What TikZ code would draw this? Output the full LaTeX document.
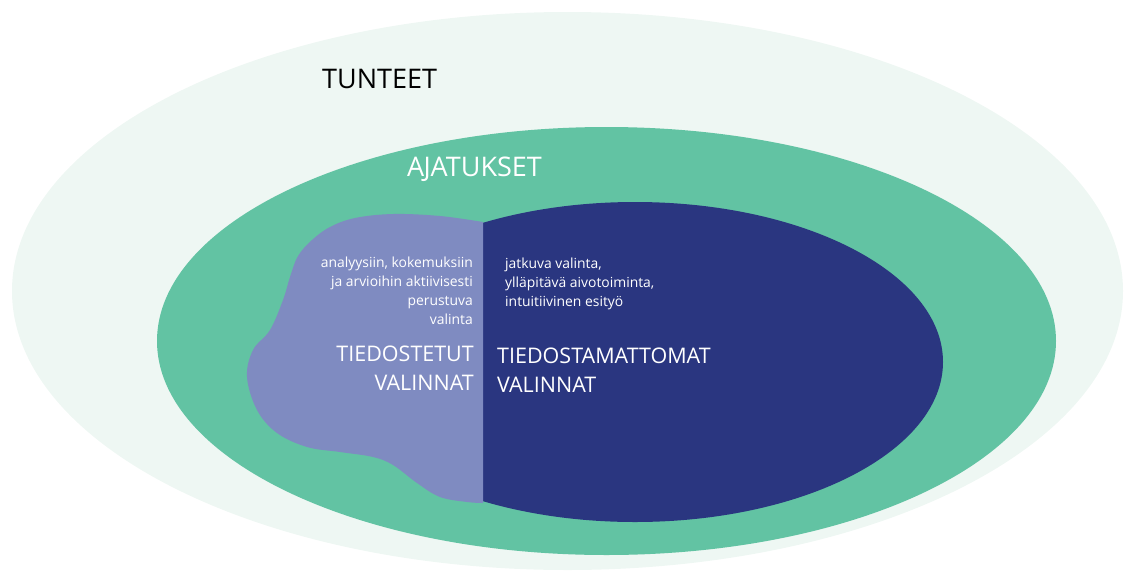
\documentclass[tikz,border=0pt]{standalone}
\usepackage{fontspec}
\setmainfont{Open Sans}
\definecolor{mintpale}{HTML}{EEF7F3}
\definecolor{mintgreen}{HTML}{62C3A3}
\definecolor{navyblue}{HTML}{2A3680}
\definecolor{lavender}{HTML}{7F8BC1}
\begin{document}
\begin{tikzpicture}[x=1pt,y=-1pt,
  bigtitle/.style={font=\fontsize{27}{32}\selectfont, inner sep=0pt, anchor=base west},
  choicetitle/.style={font=\fontsize{21.5}{28.5}\selectfont, inner sep=0pt, text=white},
  note/.style={font=\fontsize{13.9}{19}\selectfont, inner sep=0pt, text=white}]
\useasboundingbox (0,0) rectangle (1125,571);

% layers: feelings, thoughts, choices
\fill[mintpale] (567.5,291) ellipse [x radius=555.5, y radius=279];
\fill[mintgreen] (606.5,341) ellipse [x radius=449.5, y radius=214];
\begin{scope}
  \clip (483,150) rectangle (1000,560);
  \fill[navyblue] (635,362) ellipse [x radius=308, y radius=160];
\end{scope}
\fill[lavender] (483,503) -- plot[smooth, tension=0.6] coordinates {
  (483,503) (467,502) (440,497) (417,483) (393,465) (373,457) (340,452)
  (307,447) (277,433) (257,410) (247,377) (253,350) (270,330) (283,300)
  (290,277) (298,256) (312,240) (330,227) (355,218) (393,214) (440,216) (483,222)} -- cycle;

% labels (base anchor of a multi-line node sits on its last line)
\node[bigtitle] (tunteet) at (322,88) {TUNTEET};
\node[bigtitle, text=white] (ajatukset) at (407,176) {A\kern-0.8pt JATUKSET};

\node[note, align=right, anchor=base east] (tiedNote) at (473,324)
  {analyysiin, kokemuksiin\\ja arvioihin aktiivisesti\\perustuva\\valinta};
\node[choicetitle, align=right, anchor=base east] (tied) at (474,390)
  {TIEDOSTETUT\\VALINNAT};

\node[note, align=left, anchor=base west] (tiedamNote) at (505,306)
  {jatkuva valinta,\\ylläpitävä aivotoiminta,\\intuitiivinen esityö};
\node[choicetitle, align=left, anchor=base west] (tiedam) at (497,392)
  {TIEDOSTAMATTOMAT\\VALINNAT};
\end{tikzpicture}
\end{document}
